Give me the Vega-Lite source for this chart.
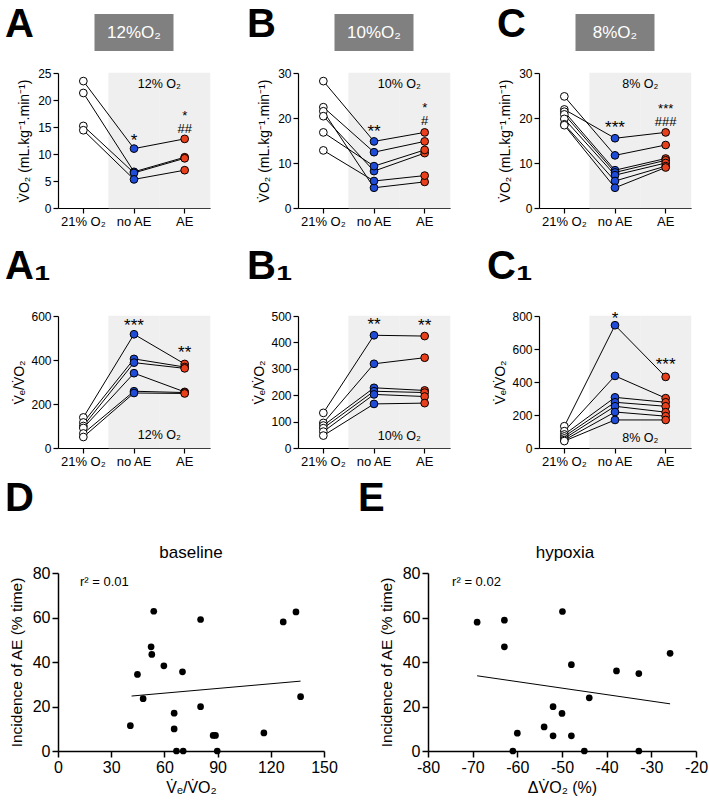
{
"$schema": "https://vega.github.io/schema/vega-lite/v6.json",
"padding": {"left": 5, "top": 4, "right": 0, "bottom": 5},
"background": "white",
"config": {
  "font": "Liberation Sans",
  "view": {"stroke": null},
  "axis": {"domainColor": "black", "tickColor": "black", "labelColor": "black", "titleColor": "black", "grid": false, "domainWidth": 1.2, "tickWidth": 1.2, "tickSize": 5, "labelFontSize": 12, "titleFontSize": 14, "titleFontWeight": "normal", "labelFont": "Liberation Sans", "titleFont": "Liberation Sans", "zindex": 1, "labelPadding": 2, "labelFlush": false},
  "text": {"font": "Liberation Sans", "color": "black"},
  "title": {"font": "Liberation Sans", "color": "black"}
},
"datasets": {
  "pts": [
    {"panel":"A","subj":1,"cond":"21% O₂","v":23.5},{"panel":"A","subj":1,"cond":"no AE","v":11.0},{"panel":"A","subj":1,"cond":"AE","v":12.8},
    {"panel":"A","subj":2,"cond":"21% O₂","v":21.3},{"panel":"A","subj":2,"cond":"no AE","v":6.7},{"panel":"A","subj":2,"cond":"AE","v":9.4},
    {"panel":"A","subj":3,"cond":"21% O₂","v":15.2},{"panel":"A","subj":3,"cond":"no AE","v":6.5},{"panel":"A","subj":3,"cond":"AE","v":9.2},
    {"panel":"A","subj":4,"cond":"21% O₂","v":14.4},{"panel":"A","subj":4,"cond":"no AE","v":5.3},{"panel":"A","subj":4,"cond":"AE","v":7.0},
    {"panel":"B","subj":1,"cond":"21% O₂","v":28.2},{"panel":"B","subj":1,"cond":"no AE","v":14.8},{"panel":"B","subj":1,"cond":"AE","v":16.8},
    {"panel":"B","subj":2,"cond":"21% O₂","v":22.4},{"panel":"B","subj":2,"cond":"no AE","v":12.4},{"panel":"B","subj":2,"cond":"AE","v":14.8},
    {"panel":"B","subj":3,"cond":"21% O₂","v":21.5},{"panel":"B","subj":3,"cond":"no AE","v":4.5},{"panel":"B","subj":3,"cond":"AE","v":5.8},
    {"panel":"B","subj":4,"cond":"21% O₂","v":20.4},{"panel":"B","subj":4,"cond":"no AE","v":8.2},{"panel":"B","subj":4,"cond":"AE","v":12.2},
    {"panel":"B","subj":5,"cond":"21% O₂","v":16.8},{"panel":"B","subj":5,"cond":"no AE","v":9.3},{"panel":"B","subj":5,"cond":"AE","v":12.9},
    {"panel":"B","subj":6,"cond":"21% O₂","v":12.8},{"panel":"B","subj":6,"cond":"no AE","v":6.0},{"panel":"B","subj":6,"cond":"AE","v":7.2},
    {"panel":"C","subj":1,"cond":"21% O₂","v":24.8},{"panel":"C","subj":1,"cond":"no AE","v":11.7},{"panel":"C","subj":1,"cond":"AE","v":14.0},
    {"panel":"C","subj":2,"cond":"21% O₂","v":21.9},{"panel":"C","subj":2,"cond":"no AE","v":15.5},{"panel":"C","subj":2,"cond":"AE","v":16.8},
    {"panel":"C","subj":3,"cond":"21% O₂","v":21.4},{"panel":"C","subj":3,"cond":"no AE","v":8.4},{"panel":"C","subj":3,"cond":"AE","v":11.0},
    {"panel":"C","subj":4,"cond":"21% O₂","v":20.8},{"panel":"C","subj":4,"cond":"no AE","v":7.9},{"panel":"C","subj":4,"cond":"AE","v":10.6},
    {"panel":"C","subj":5,"cond":"21% O₂","v":19.8},{"panel":"C","subj":5,"cond":"no AE","v":7.3},{"panel":"C","subj":5,"cond":"AE","v":10.0},
    {"panel":"C","subj":6,"cond":"21% O₂","v":18.6},{"panel":"C","subj":6,"cond":"no AE","v":6.0},{"panel":"C","subj":6,"cond":"AE","v":9.3},
    {"panel":"C","subj":7,"cond":"21% O₂","v":18.4},{"panel":"C","subj":7,"cond":"no AE","v":4.5},{"panel":"C","subj":7,"cond":"AE","v":9.0},
    {"panel":"A1","subj":1,"cond":"21% O₂","v":139},{"panel":"A1","subj":1,"cond":"no AE","v":517},{"panel":"A1","subj":1,"cond":"AE","v":382},
    {"panel":"A1","subj":2,"cond":"21% O₂","v":116},{"panel":"A1","subj":2,"cond":"no AE","v":405},{"panel":"A1","subj":2,"cond":"AE","v":368},
    {"panel":"A1","subj":3,"cond":"21% O₂","v":100},{"panel":"A1","subj":3,"cond":"no AE","v":388},{"panel":"A1","subj":3,"cond":"AE","v":362},
    {"panel":"A1","subj":4,"cond":"21% O₂","v":91},{"panel":"A1","subj":4,"cond":"no AE","v":340},{"panel":"A1","subj":4,"cond":"AE","v":255},
    {"panel":"A1","subj":5,"cond":"21% O₂","v":66},{"panel":"A1","subj":5,"cond":"no AE","v":258},{"panel":"A1","subj":5,"cond":"AE","v":252},
    {"panel":"A1","subj":6,"cond":"21% O₂","v":50},{"panel":"A1","subj":6,"cond":"no AE","v":250},{"panel":"A1","subj":6,"cond":"AE","v":248},
    {"panel":"B1","subj":1,"cond":"21% O₂","v":133},{"panel":"B1","subj":1,"cond":"no AE","v":427},{"panel":"B1","subj":1,"cond":"AE","v":424},
    {"panel":"B1","subj":2,"cond":"21% O₂","v":95},{"panel":"B1","subj":2,"cond":"no AE","v":319},{"panel":"B1","subj":2,"cond":"AE","v":342},
    {"panel":"B1","subj":3,"cond":"21% O₂","v":85},{"panel":"B1","subj":3,"cond":"no AE","v":228},{"panel":"B1","subj":3,"cond":"AE","v":218},
    {"panel":"B1","subj":4,"cond":"21% O₂","v":75},{"panel":"B1","subj":4,"cond":"no AE","v":215},{"panel":"B1","subj":4,"cond":"AE","v":210},
    {"panel":"B1","subj":5,"cond":"21% O₂","v":62},{"panel":"B1","subj":5,"cond":"no AE","v":203},{"panel":"B1","subj":5,"cond":"AE","v":195},
    {"panel":"B1","subj":6,"cond":"21% O₂","v":47},{"panel":"B1","subj":6,"cond":"no AE","v":167},{"panel":"B1","subj":6,"cond":"AE","v":170},
    {"panel":"C1","subj":1,"cond":"21% O₂","v":132},{"panel":"C1","subj":1,"cond":"no AE","v":744},{"panel":"C1","subj":1,"cond":"AE","v":431},
    {"panel":"C1","subj":2,"cond":"21% O₂","v":102},{"panel":"C1","subj":2,"cond":"no AE","v":437},{"panel":"C1","subj":2,"cond":"AE","v":302},
    {"panel":"C1","subj":3,"cond":"21% O₂","v":82},{"panel":"C1","subj":3,"cond":"no AE","v":307},{"panel":"C1","subj":3,"cond":"AE","v":277},
    {"panel":"C1","subj":4,"cond":"21% O₂","v":70},{"panel":"C1","subj":4,"cond":"no AE","v":277},{"panel":"C1","subj":4,"cond":"AE","v":253},
    {"panel":"C1","subj":5,"cond":"21% O₂","v":58},{"panel":"C1","subj":5,"cond":"no AE","v":253},{"panel":"C1","subj":5,"cond":"AE","v":217},
    {"panel":"C1","subj":6,"cond":"21% O₂","v":48},{"panel":"C1","subj":6,"cond":"no AE","v":218},{"panel":"C1","subj":6,"cond":"AE","v":193},
    {"panel":"C1","subj":7,"cond":"21% O₂","v":42},{"panel":"C1","subj":7,"cond":"no AE","v":170},{"panel":"C1","subj":7,"cond":"AE","v":170}
  ],
  "scatD": [
    {"x":40.8,"y":11.4},{"x":44.8,"y":34.4},{"x":48.0,"y":23.5},{"x":52.5,"y":46.8},{"x":52.9,"y":43.4},{"x":54.0,"y":62.8},{"x":59.7,"y":38.3},
    {"x":65.5,"y":17.0},{"x":65.5,"y":9.9},{"x":66.8,"y":0},{"x":70.2,"y":35.6},{"x":70.6,"y":0},{"x":80.4,"y":59.1},{"x":80.4,"y":19.9},
    {"x":87.5,"y":7.0},{"x":88.8,"y":7.0},{"x":89.8,"y":0},{"x":116.1,"y":8.1},{"x":127.0,"y":58.0},{"x":134.2,"y":62.5},{"x":136.8,"y":24.4}
  ],
  "fitD": [{"x":41.5,"y":24.7},{"x":136.8,"y":31.4}],
  "scatE": [
    {"x":-69.0,"y":57.9},{"x":-62.9,"y":58.8},{"x":-62.9,"y":46.8},{"x":-49.9,"y":62.7},{"x":-25.8,"y":43.9},{"x":-47.9,"y":38.8},
    {"x":-37.8,"y":36.0},{"x":-32.8,"y":34.8},{"x":-43.9,"y":23.9},{"x":-52.0,"y":19.9},{"x":-50.0,"y":16.9},{"x":-54.0,"y":10.8},
    {"x":-52.0,"y":6.8},{"x":-47.9,"y":6.8},{"x":-60.0,"y":8.0},{"x":-61.0,"y":0},{"x":-45.0,"y":0},{"x":-32.8,"y":0}
  ],
  "fitE": [{"x":-69.0,"y":33.8},{"x":-25.8,"y":21.2}]
},
"spacing": 11,
"vconcat": [
 {
  "spacing": 36,
  "hconcat": [
   {
    "spacing": 19,
    "vconcat": [
     {
      "bounds": "flush", "center": true, "spacing": 22,
      "vconcat": [
       {"width": 79, "height": 37, "view": {"fill": "#808080", "stroke": null},
        "title": {"text": "A", "anchor": "start", "frame": "group", "fontSize": 40, "fontWeight": "bold", "offset": 0, "baseline": "alphabetic", "dx": -89.5, "dy": 62.6},
        "data": {"values": [{"label": "12%O₂"}]},
        "mark": {"type": "text", "color": "white", "fontSize": 17, "baseline": "middle"},
        "encoding": {"text": {"field": "label", "type": "nominal"}}},
       {"width": 152, "height": 135,
        "layer": [
          {"data": {"values": [{"cond": "no AE"}, {"cond": "AE"}]}, "mark": {"type": "rect", "fill": "#efefef", "stroke": "#efefef", "strokeWidth": 0.5},
           "encoding": {"x": {"field": "cond", "type": "nominal", "sort": ["21% O₂", "no AE", "AE"], "scale": {"domain": ["21% O₂", "no AE", "AE"], "paddingInner": 0, "paddingOuter": 0}, "axis": {"title": null, "labelAngle": 0, "labelFontSize": 13}},
             "y": {"datum": 0, "scale": {"domain": [0, 25], "nice": false}, "axis": {"values": [0, 5, 10, 15, 20, 25], "title": "V̇O₂ (mL.kg⁻¹.min⁻¹)", "titlePadding": 6}}, "y2": {"datum": 25}}},
          {"data": {"name": "pts"}, "transform": [{"filter": {"field": "panel", "equal": "A"}}], "mark": {"type": "line", "color": "black", "strokeWidth": 1},
           "encoding": {"x": {"field": "cond", "type": "nominal", "sort": ["21% O₂", "no AE", "AE"], "scale": {"domain": ["21% O₂", "no AE", "AE"], "paddingInner": 0, "paddingOuter": 0}, "axis": {"title": null, "labelAngle": 0, "labelFontSize": 13}},
             "y": {"field": "v", "type": "quantitative", "scale": {"domain": [0, 25], "nice": false}, "axis": {"values": [0, 5, 10, 15, 20, 25], "title": "V̇O₂ (mL.kg⁻¹.min⁻¹)", "titlePadding": 6}},
             "detail": {"field": "subj", "type": "nominal"}}},
          {"data": {"name": "pts"}, "transform": [{"filter": {"field": "panel", "equal": "A"}}], "mark": {"type": "circle", "size": 60, "stroke": "black", "strokeWidth": 1, "opacity": 1},
           "encoding": {"x": {"field": "cond", "type": "nominal", "sort": ["21% O₂", "no AE", "AE"], "scale": {"domain": ["21% O₂", "no AE", "AE"], "paddingInner": 0, "paddingOuter": 0}, "axis": {"title": null, "labelAngle": 0, "labelFontSize": 13}},
             "y": {"field": "v", "type": "quantitative", "scale": {"domain": [0, 25], "nice": false}, "axis": {"values": [0, 5, 10, 15, 20, 25], "title": "V̇O₂ (mL.kg⁻¹.min⁻¹)", "titlePadding": 6}},
             "fill": {"field": "cond", "type": "nominal", "scale": {"domain": ["21% O₂", "no AE", "AE"], "range": ["#ffffff", "#1e4bd8", "#e8401c"]}, "legend": null}}},
          {"data": {"values": [{"label": "12% O₂"}]}, "mark": {"type": "text", "fontSize": 12.5, "baseline": "middle"}, "encoding": {"x": {"datum": "AE", "bandPosition": 0}, "y": {"datum": 23.0, "axis": {"values": [0, 5, 10, 15, 20, 25], "title": "V̇O₂ (mL.kg⁻¹.min⁻¹)", "titlePadding": 6}}, "text": {"field": "label", "type": "nominal"}}},
          {"data": {"values": [{"label": "*"}]}, "mark": {"type": "text", "fontSize": 17, "baseline": "alphabetic", "dy": -3}, "encoding": {"x": {"datum": "no AE", "bandPosition": 0.5}, "y": {"datum": 11.0, "axis": {"values": [0, 5, 10, 15, 20, 25], "title": "V̇O₂ (mL.kg⁻¹.min⁻¹)", "titlePadding": 6}}, "text": {"field": "label", "type": "nominal"}}},
          {"data": {"values": [{"label": "*\n##"}]}, "mark": {"type": "text", "fontSize": 13, "lineHeight": 13, "lineBreak": "\n", "baseline": "alphabetic", "dy": -19}, "encoding": {"x": {"datum": "AE", "bandPosition": 0.5}, "y": {"datum": 12.8, "axis": {"values": [0, 5, 10, 15, 20, 25], "title": "V̇O₂ (mL.kg⁻¹.min⁻¹)", "titlePadding": 6}}, "text": {"field": "label", "type": "nominal"}}}
        ]}
      ]
     },
     {"width": 152, "height": 132,
      "title": {"text": "A₁", "anchor": "start", "frame": "group", "fontSize": 40, "fontWeight": "bold", "offset": 0, "baseline": "alphabetic", "dx": -53, "dy": 9},
      "layer": [
        {"data": {"values": [{"cond": "no AE"}, {"cond": "AE"}]}, "mark": {"type": "rect", "fill": "#efefef", "stroke": "#efefef", "strokeWidth": 0.5},
         "encoding": {"x": {"field": "cond", "type": "nominal", "sort": ["21% O₂", "no AE", "AE"], "scale": {"domain": ["21% O₂", "no AE", "AE"], "paddingInner": 0, "paddingOuter": 0}, "axis": {"title": null, "labelAngle": 0, "labelFontSize": 13}},
           "y": {"datum": 0, "scale": {"domain": [0, 600], "nice": false}, "axis": {"values": [0, 200, 400, 600], "title": "V̇ₑ/V̇O₂", "titlePadding": 4}}, "y2": {"datum": 600}}},
        {"data": {"name": "pts"}, "transform": [{"filter": {"field": "panel", "equal": "A1"}}], "mark": {"type": "line", "color": "black", "strokeWidth": 1},
         "encoding": {"x": {"field": "cond", "type": "nominal", "sort": ["21% O₂", "no AE", "AE"], "scale": {"domain": ["21% O₂", "no AE", "AE"], "paddingInner": 0, "paddingOuter": 0}, "axis": {"title": null, "labelAngle": 0, "labelFontSize": 13}},
           "y": {"field": "v", "type": "quantitative", "scale": {"domain": [0, 600], "nice": false}, "axis": {"values": [0, 200, 400, 600], "title": "V̇ₑ/V̇O₂", "titlePadding": 4}},
           "detail": {"field": "subj", "type": "nominal"}}},
        {"data": {"name": "pts"}, "transform": [{"filter": {"field": "panel", "equal": "A1"}}], "mark": {"type": "circle", "size": 60, "stroke": "black", "strokeWidth": 1, "opacity": 1},
         "encoding": {"x": {"field": "cond", "type": "nominal", "sort": ["21% O₂", "no AE", "AE"], "scale": {"domain": ["21% O₂", "no AE", "AE"], "paddingInner": 0, "paddingOuter": 0}, "axis": {"title": null, "labelAngle": 0, "labelFontSize": 13}},
           "y": {"field": "v", "type": "quantitative", "scale": {"domain": [0, 600], "nice": false}, "axis": {"values": [0, 200, 400, 600], "title": "V̇ₑ/V̇O₂", "titlePadding": 4}},
           "fill": {"field": "cond", "type": "nominal", "scale": {"domain": ["21% O₂", "no AE", "AE"], "range": ["#ffffff", "#1e4bd8", "#e8401c"]}, "legend": null}}},
        {"data": {"values": [{"label": "12% O₂"}]}, "mark": {"type": "text", "fontSize": 12.5, "baseline": "middle"}, "encoding": {"x": {"datum": "AE", "bandPosition": 0}, "y": {"datum": 59, "axis": {"values": [0, 200, 400, 600], "title": "V̇ₑ/V̇O₂", "titlePadding": 4}}, "text": {"field": "label", "type": "nominal"}}},
        {"data": {"values": [{"label": "***"}]}, "mark": {"type": "text", "fontSize": 17, "baseline": "alphabetic", "dy": -3}, "encoding": {"x": {"datum": "no AE", "bandPosition": 0.5}, "y": {"datum": 517, "axis": {"values": [0, 200, 400, 600], "title": "V̇ₑ/V̇O₂", "titlePadding": 4}}, "text": {"field": "label", "type": "nominal"}}},
        {"data": {"values": [{"label": "**"}]}, "mark": {"type": "text", "fontSize": 17, "baseline": "alphabetic", "dy": -6}, "encoding": {"x": {"datum": "AE", "bandPosition": 0.5}, "y": {"datum": 382, "axis": {"values": [0, 200, 400, 600], "title": "V̇ₑ/V̇O₂", "titlePadding": 4}}, "text": {"field": "label", "type": "nominal"}}}
      ]}
    ]
   },
   {
    "spacing": 19,
    "vconcat": [
     {
      "bounds": "flush", "center": true, "spacing": 22,
      "vconcat": [
       {"width": 79, "height": 37, "view": {"fill": "#808080", "stroke": null},
        "title": {"text": "B", "anchor": "start", "frame": "group", "fontSize": 40, "fontWeight": "bold", "offset": 0, "baseline": "alphabetic", "dx": -87.5, "dy": 62.6},
        "data": {"values": [{"label": "10%O₂"}]},
        "mark": {"type": "text", "color": "white", "fontSize": 17, "baseline": "middle"},
        "encoding": {"text": {"field": "label", "type": "nominal"}}},
       {"width": 152, "height": 135,
        "layer": [
          {"data": {"values": [{"cond": "no AE"}, {"cond": "AE"}]}, "mark": {"type": "rect", "fill": "#efefef", "stroke": "#efefef", "strokeWidth": 0.5},
           "encoding": {"x": {"field": "cond", "type": "nominal", "sort": ["21% O₂", "no AE", "AE"], "scale": {"domain": ["21% O₂", "no AE", "AE"], "paddingInner": 0, "paddingOuter": 0}, "axis": {"title": null, "labelAngle": 0, "labelFontSize": 13}},
             "y": {"datum": 0, "scale": {"domain": [0, 30], "nice": false}, "axis": {"values": [0, 10, 20, 30], "title": "V̇O₂ (mL.kg⁻¹.min⁻¹)", "titlePadding": 6}}, "y2": {"datum": 30}}},
          {"data": {"name": "pts"}, "transform": [{"filter": {"field": "panel", "equal": "B"}}], "mark": {"type": "line", "color": "black", "strokeWidth": 1},
           "encoding": {"x": {"field": "cond", "type": "nominal", "sort": ["21% O₂", "no AE", "AE"], "scale": {"domain": ["21% O₂", "no AE", "AE"], "paddingInner": 0, "paddingOuter": 0}, "axis": {"title": null, "labelAngle": 0, "labelFontSize": 13}},
             "y": {"field": "v", "type": "quantitative", "scale": {"domain": [0, 30], "nice": false}, "axis": {"values": [0, 10, 20, 30], "title": "V̇O₂ (mL.kg⁻¹.min⁻¹)", "titlePadding": 6}},
             "detail": {"field": "subj", "type": "nominal"}}},
          {"data": {"name": "pts"}, "transform": [{"filter": {"field": "panel", "equal": "B"}}], "mark": {"type": "circle", "size": 60, "stroke": "black", "strokeWidth": 1, "opacity": 1},
           "encoding": {"x": {"field": "cond", "type": "nominal", "sort": ["21% O₂", "no AE", "AE"], "scale": {"domain": ["21% O₂", "no AE", "AE"], "paddingInner": 0, "paddingOuter": 0}, "axis": {"title": null, "labelAngle": 0, "labelFontSize": 13}},
             "y": {"field": "v", "type": "quantitative", "scale": {"domain": [0, 30], "nice": false}, "axis": {"values": [0, 10, 20, 30], "title": "V̇O₂ (mL.kg⁻¹.min⁻¹)", "titlePadding": 6}},
             "fill": {"field": "cond", "type": "nominal", "scale": {"domain": ["21% O₂", "no AE", "AE"], "range": ["#ffffff", "#1e4bd8", "#e8401c"]}, "legend": null}}},
          {"data": {"values": [{"label": "10% O₂"}]}, "mark": {"type": "text", "fontSize": 12.5, "baseline": "middle"}, "encoding": {"x": {"datum": "AE", "bandPosition": 0}, "y": {"datum": 27.5, "axis": {"values": [0, 10, 20, 30], "title": "V̇O₂ (mL.kg⁻¹.min⁻¹)", "titlePadding": 6}}, "text": {"field": "label", "type": "nominal"}}},
          {"data": {"values": [{"label": "**"}]}, "mark": {"type": "text", "fontSize": 17, "baseline": "alphabetic", "dy": -4}, "encoding": {"x": {"datum": "no AE", "bandPosition": 0.5}, "y": {"datum": 14.8, "axis": {"values": [0, 10, 20, 30], "title": "V̇O₂ (mL.kg⁻¹.min⁻¹)", "titlePadding": 6}}, "text": {"field": "label", "type": "nominal"}}},
          {"data": {"values": [{"label": "*\n#"}]}, "mark": {"type": "text", "fontSize": 13, "lineHeight": 13, "lineBreak": "\n", "baseline": "alphabetic", "dy": -20}, "encoding": {"x": {"datum": "AE", "bandPosition": 0.5}, "y": {"datum": 16.8, "axis": {"values": [0, 10, 20, 30], "title": "V̇O₂ (mL.kg⁻¹.min⁻¹)", "titlePadding": 6}}, "text": {"field": "label", "type": "nominal"}}}
        ]}
      ]
     },
     {"width": 152, "height": 132,
      "title": {"text": "B₁", "anchor": "start", "frame": "group", "fontSize": 40, "fontWeight": "bold", "offset": 0, "baseline": "alphabetic", "dx": -51, "dy": 9},
      "layer": [
        {"data": {"values": [{"cond": "no AE"}, {"cond": "AE"}]}, "mark": {"type": "rect", "fill": "#efefef", "stroke": "#efefef", "strokeWidth": 0.5},
         "encoding": {"x": {"field": "cond", "type": "nominal", "sort": ["21% O₂", "no AE", "AE"], "scale": {"domain": ["21% O₂", "no AE", "AE"], "paddingInner": 0, "paddingOuter": 0}, "axis": {"title": null, "labelAngle": 0, "labelFontSize": 13}},
           "y": {"datum": 0, "scale": {"domain": [0, 500], "nice": false}, "axis": {"values": [0, 100, 200, 300, 400, 500], "title": "V̇ₑ/V̇O₂", "titlePadding": 4}}, "y2": {"datum": 500}}},
        {"data": {"name": "pts"}, "transform": [{"filter": {"field": "panel", "equal": "B1"}}], "mark": {"type": "line", "color": "black", "strokeWidth": 1},
         "encoding": {"x": {"field": "cond", "type": "nominal", "sort": ["21% O₂", "no AE", "AE"], "scale": {"domain": ["21% O₂", "no AE", "AE"], "paddingInner": 0, "paddingOuter": 0}, "axis": {"title": null, "labelAngle": 0, "labelFontSize": 13}},
           "y": {"field": "v", "type": "quantitative", "scale": {"domain": [0, 500], "nice": false}, "axis": {"values": [0, 100, 200, 300, 400, 500], "title": "V̇ₑ/V̇O₂", "titlePadding": 4}},
           "detail": {"field": "subj", "type": "nominal"}}},
        {"data": {"name": "pts"}, "transform": [{"filter": {"field": "panel", "equal": "B1"}}], "mark": {"type": "circle", "size": 60, "stroke": "black", "strokeWidth": 1, "opacity": 1},
         "encoding": {"x": {"field": "cond", "type": "nominal", "sort": ["21% O₂", "no AE", "AE"], "scale": {"domain": ["21% O₂", "no AE", "AE"], "paddingInner": 0, "paddingOuter": 0}, "axis": {"title": null, "labelAngle": 0, "labelFontSize": 13}},
           "y": {"field": "v", "type": "quantitative", "scale": {"domain": [0, 500], "nice": false}, "axis": {"values": [0, 100, 200, 300, 400, 500], "title": "V̇ₑ/V̇O₂", "titlePadding": 4}},
           "fill": {"field": "cond", "type": "nominal", "scale": {"domain": ["21% O₂", "no AE", "AE"], "range": ["#ffffff", "#1e4bd8", "#e8401c"]}, "legend": null}}},
        {"data": {"values": [{"label": "10% O₂"}]}, "mark": {"type": "text", "fontSize": 12.5, "baseline": "middle"}, "encoding": {"x": {"datum": "AE", "bandPosition": 0}, "y": {"datum": 46, "axis": {"values": [0, 100, 200, 300, 400, 500], "title": "V̇ₑ/V̇O₂", "titlePadding": 4}}, "text": {"field": "label", "type": "nominal"}}},
        {"data": {"values": [{"label": "**"}]}, "mark": {"type": "text", "fontSize": 17, "baseline": "alphabetic", "dy": -5}, "encoding": {"x": {"datum": "no AE", "bandPosition": 0.5}, "y": {"datum": 427, "axis": {"values": [0, 100, 200, 300, 400, 500], "title": "V̇ₑ/V̇O₂", "titlePadding": 4}}, "text": {"field": "label", "type": "nominal"}}},
        {"data": {"values": [{"label": "**"}]}, "mark": {"type": "text", "fontSize": 17, "baseline": "alphabetic", "dy": -5}, "encoding": {"x": {"datum": "AE", "bandPosition": 0.5}, "y": {"datum": 424, "axis": {"values": [0, 100, 200, 300, 400, 500], "title": "V̇ₑ/V̇O₂", "titlePadding": 4}}, "text": {"field": "label", "type": "nominal"}}}
      ]}
    ]
   },
   {
    "spacing": 19,
    "vconcat": [
     {
      "bounds": "flush", "center": true, "spacing": 22,
      "vconcat": [
       {"width": 79, "height": 37, "view": {"fill": "#808080", "stroke": null},
        "title": {"text": "C", "anchor": "start", "frame": "group", "fontSize": 40, "fontWeight": "bold", "offset": 0, "baseline": "alphabetic", "dx": -78.5, "dy": 62.6},
        "data": {"values": [{"label": "8%O₂"}]},
        "mark": {"type": "text", "color": "white", "fontSize": 17, "baseline": "middle"},
        "encoding": {"text": {"field": "label", "type": "nominal"}}},
       {"width": 152, "height": 135,
        "layer": [
          {"data": {"values": [{"cond": "no AE"}, {"cond": "AE"}]}, "mark": {"type": "rect", "fill": "#efefef", "stroke": "#efefef", "strokeWidth": 0.5},
           "encoding": {"x": {"field": "cond", "type": "nominal", "sort": ["21% O₂", "no AE", "AE"], "scale": {"domain": ["21% O₂", "no AE", "AE"], "paddingInner": 0, "paddingOuter": 0}, "axis": {"title": null, "labelAngle": 0, "labelFontSize": 13}},
             "y": {"datum": 0, "scale": {"domain": [0, 30], "nice": false}, "axis": {"values": [0, 10, 20, 30], "title": "V̇O₂ (mL.kg⁻¹.min⁻¹)", "titlePadding": 6}}, "y2": {"datum": 30}}},
          {"data": {"name": "pts"}, "transform": [{"filter": {"field": "panel", "equal": "C"}}], "mark": {"type": "line", "color": "black", "strokeWidth": 1},
           "encoding": {"x": {"field": "cond", "type": "nominal", "sort": ["21% O₂", "no AE", "AE"], "scale": {"domain": ["21% O₂", "no AE", "AE"], "paddingInner": 0, "paddingOuter": 0}, "axis": {"title": null, "labelAngle": 0, "labelFontSize": 13}},
             "y": {"field": "v", "type": "quantitative", "scale": {"domain": [0, 30], "nice": false}, "axis": {"values": [0, 10, 20, 30], "title": "V̇O₂ (mL.kg⁻¹.min⁻¹)", "titlePadding": 6}},
             "detail": {"field": "subj", "type": "nominal"}}},
          {"data": {"name": "pts"}, "transform": [{"filter": {"field": "panel", "equal": "C"}}], "mark": {"type": "circle", "size": 60, "stroke": "black", "strokeWidth": 1, "opacity": 1},
           "encoding": {"x": {"field": "cond", "type": "nominal", "sort": ["21% O₂", "no AE", "AE"], "scale": {"domain": ["21% O₂", "no AE", "AE"], "paddingInner": 0, "paddingOuter": 0}, "axis": {"title": null, "labelAngle": 0, "labelFontSize": 13}},
             "y": {"field": "v", "type": "quantitative", "scale": {"domain": [0, 30], "nice": false}, "axis": {"values": [0, 10, 20, 30], "title": "V̇O₂ (mL.kg⁻¹.min⁻¹)", "titlePadding": 6}},
             "fill": {"field": "cond", "type": "nominal", "scale": {"domain": ["21% O₂", "no AE", "AE"], "range": ["#ffffff", "#1e4bd8", "#e8401c"]}, "legend": null}}},
          {"data": {"values": [{"label": "8% O₂"}]}, "mark": {"type": "text", "fontSize": 12.5, "baseline": "middle"}, "encoding": {"x": {"datum": "AE", "bandPosition": 0}, "y": {"datum": 27.5, "axis": {"values": [0, 10, 20, 30], "title": "V̇O₂ (mL.kg⁻¹.min⁻¹)", "titlePadding": 6}}, "text": {"field": "label", "type": "nominal"}}},
          {"data": {"values": [{"label": "***"}]}, "mark": {"type": "text", "fontSize": 17, "baseline": "alphabetic", "dy": -5}, "encoding": {"x": {"datum": "no AE", "bandPosition": 0.5}, "y": {"datum": 15.5, "axis": {"values": [0, 10, 20, 30], "title": "V̇O₂ (mL.kg⁻¹.min⁻¹)", "titlePadding": 6}}, "text": {"field": "label", "type": "nominal"}}},
          {"data": {"values": [{"label": "***\n###"}]}, "mark": {"type": "text", "fontSize": 13, "lineHeight": 13, "lineBreak": "\n", "baseline": "alphabetic", "dy": -19}, "encoding": {"x": {"datum": "AE", "bandPosition": 0.5}, "y": {"datum": 16.8, "axis": {"values": [0, 10, 20, 30], "title": "V̇O₂ (mL.kg⁻¹.min⁻¹)", "titlePadding": 6}}, "text": {"field": "label", "type": "nominal"}}}
        ]}
      ]
     },
     {"width": 152, "height": 132,
      "title": {"text": "C₁", "anchor": "start", "frame": "group", "fontSize": 40, "fontWeight": "bold", "offset": 0, "baseline": "alphabetic", "dx": -52, "dy": 9},
      "layer": [
        {"data": {"values": [{"cond": "no AE"}, {"cond": "AE"}]}, "mark": {"type": "rect", "fill": "#efefef", "stroke": "#efefef", "strokeWidth": 0.5},
         "encoding": {"x": {"field": "cond", "type": "nominal", "sort": ["21% O₂", "no AE", "AE"], "scale": {"domain": ["21% O₂", "no AE", "AE"], "paddingInner": 0, "paddingOuter": 0}, "axis": {"title": null, "labelAngle": 0, "labelFontSize": 13}},
           "y": {"datum": 0, "scale": {"domain": [0, 800], "nice": false}, "axis": {"values": [0, 200, 400, 600, 800], "title": "V̇ₑ/V̇O₂", "titlePadding": 4}}, "y2": {"datum": 800}}},
        {"data": {"name": "pts"}, "transform": [{"filter": {"field": "panel", "equal": "C1"}}], "mark": {"type": "line", "color": "black", "strokeWidth": 1},
         "encoding": {"x": {"field": "cond", "type": "nominal", "sort": ["21% O₂", "no AE", "AE"], "scale": {"domain": ["21% O₂", "no AE", "AE"], "paddingInner": 0, "paddingOuter": 0}, "axis": {"title": null, "labelAngle": 0, "labelFontSize": 13}},
           "y": {"field": "v", "type": "quantitative", "scale": {"domain": [0, 800], "nice": false}, "axis": {"values": [0, 200, 400, 600, 800], "title": "V̇ₑ/V̇O₂", "titlePadding": 4}},
           "detail": {"field": "subj", "type": "nominal"}}},
        {"data": {"name": "pts"}, "transform": [{"filter": {"field": "panel", "equal": "C1"}}], "mark": {"type": "circle", "size": 60, "stroke": "black", "strokeWidth": 1, "opacity": 1},
         "encoding": {"x": {"field": "cond", "type": "nominal", "sort": ["21% O₂", "no AE", "AE"], "scale": {"domain": ["21% O₂", "no AE", "AE"], "paddingInner": 0, "paddingOuter": 0}, "axis": {"title": null, "labelAngle": 0, "labelFontSize": 13}},
           "y": {"field": "v", "type": "quantitative", "scale": {"domain": [0, 800], "nice": false}, "axis": {"values": [0, 200, 400, 600, 800], "title": "V̇ₑ/V̇O₂", "titlePadding": 4}},
           "fill": {"field": "cond", "type": "nominal", "scale": {"domain": ["21% O₂", "no AE", "AE"], "range": ["#ffffff", "#1e4bd8", "#e8401c"]}, "legend": null}}},
        {"data": {"values": [{"label": "8% O₂"}]}, "mark": {"type": "text", "fontSize": 12.5, "baseline": "middle"}, "encoding": {"x": {"datum": "AE", "bandPosition": 0}, "y": {"datum": 60, "axis": {"values": [0, 200, 400, 600, 800], "title": "V̇ₑ/V̇O₂", "titlePadding": 4}}, "text": {"field": "label", "type": "nominal"}}},
        {"data": {"values": [{"label": "*"}]}, "mark": {"type": "text", "fontSize": 17, "baseline": "alphabetic", "dy": -1}, "encoding": {"x": {"datum": "no AE", "bandPosition": 0.5}, "y": {"datum": 744, "axis": {"values": [0, 200, 400, 600, 800], "title": "V̇ₑ/V̇O₂", "titlePadding": 4}}, "text": {"field": "label", "type": "nominal"}}},
        {"data": {"values": [{"label": "***"}]}, "mark": {"type": "text", "fontSize": 17, "baseline": "alphabetic", "dy": -7}, "encoding": {"x": {"datum": "AE", "bandPosition": 0.5}, "y": {"datum": 431, "axis": {"values": [0, 200, 400, 600, 800], "title": "V̇ₑ/V̇O₂", "titlePadding": 4}}, "text": {"field": "label", "type": "nominal"}}}
      ]}
    ]
   }
  ]
 },
 {
  "spacing": 20,
  "hconcat": [
   {
    "title": {"text": "D", "anchor": "start", "frame": "group", "fontSize": 40, "fontWeight": "bold", "offset": 0, "baseline": "alphabetic", "dx": -53, "dy": 7},
    "vconcat": [
     {"width": 266, "height": 178,
      "title": {"text": "baseline", "fontSize": 17, "fontWeight": "normal", "anchor": "middle", "frame": "group", "offset": 0, "baseline": "alphabetic", "dy": 10},
      "layer": [
        {"data": {"name": "scatD"}, "mark": {"type": "circle", "size": 45, "color": "black", "opacity": 1},
         "encoding": {
           "x": {"field": "x", "type": "quantitative", "scale": {"domain": [0, 150], "nice": false}, "axis": {"values": [0, 30, 60, 90, 120, 150], "title": "V̇ₑ/V̇O₂", "labelFontSize": 16, "titleFontSize": 16, "tickSize": 6, "titlePadding": 4, "domainWidth": 1.5, "tickWidth": 1.5}},
           "y": {"field": "y", "type": "quantitative", "scale": {"domain": [0, 80], "nice": false}, "axis": {"values": [0, 20, 40, 60, 80], "title": "Incidence of AE (% time)", "labelFontSize": 16, "titleFontSize": 15.5, "tickSize": 6, "titlePadding": 8, "domainWidth": 1.5, "tickWidth": 1.5}}}},
        {"data": {"name": "fitD"}, "mark": {"type": "line", "color": "black", "strokeWidth": 1}, "encoding": {"x": {"field": "x", "type": "quantitative"}, "y": {"field": "y", "type": "quantitative"}}},
        {"data": {"values": [{"label": "r² = 0.01"}]}, "mark": {"type": "text", "align": "left", "fontSize": 13, "baseline": "middle"}, "encoding": {"x": {"datum": 12.4}, "y": {"datum": 76}, "text": {"field": "label", "type": "nominal"}}}
      ]}
    ]
   },
   {
    "title": {"text": "E", "anchor": "start", "frame": "group", "fontSize": 40, "fontWeight": "bold", "offset": 0, "baseline": "alphabetic", "dx": -70, "dy": 7},
    "vconcat": [
     {"width": 268, "height": 178,
      "title": {"text": "hypoxia", "fontSize": 17, "fontWeight": "normal", "anchor": "middle", "frame": "group", "offset": 0, "baseline": "alphabetic", "dx": 3, "dy": 10},
      "layer": [
        {"data": {"name": "scatE"}, "mark": {"type": "circle", "size": 45, "color": "black", "opacity": 1},
         "encoding": {
           "x": {"field": "x", "type": "quantitative", "scale": {"domain": [-80, -20], "nice": false}, "axis": {"values": [-80, -70, -60, -50, -40, -30, -20], "labelExpr": "replace(datum.label, '−', '-')", "title": "ΔV̇O₂ (%)", "labelFontSize": 16, "titleFontSize": 16, "tickSize": 6, "titlePadding": 4, "domainWidth": 1.5, "tickWidth": 1.5}},
           "y": {"field": "y", "type": "quantitative", "scale": {"domain": [0, 80], "nice": false}, "axis": {"values": [0, 20, 40, 60, 80], "title": "Incidence of AE (% time)", "labelFontSize": 16, "titleFontSize": 15.5, "tickSize": 6, "titlePadding": 8, "domainWidth": 1.5, "tickWidth": 1.5}}}},
        {"data": {"name": "fitE"}, "mark": {"type": "line", "color": "black", "strokeWidth": 1}, "encoding": {"x": {"field": "x", "type": "quantitative"}, "y": {"field": "y", "type": "quantitative"}}},
        {"data": {"values": [{"label": "r² = 0.02"}]}, "mark": {"type": "text", "align": "left", "fontSize": 13, "baseline": "middle"}, "encoding": {"x": {"datum": -74.6}, "y": {"datum": 76}, "text": {"field": "label", "type": "nominal"}}}
      ]}
    ]
   }
  ]
 }
]
}
